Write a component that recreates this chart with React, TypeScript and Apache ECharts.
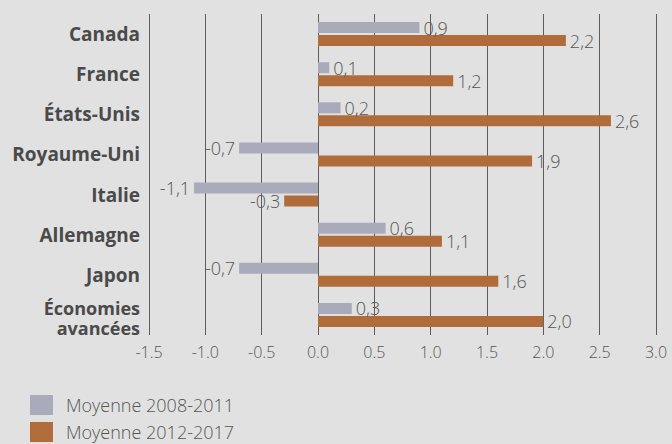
import React, { useEffect, useRef } from "react";
import * as echarts from "echarts";

const categories = [
  "Canada",
  "France",
  "États-Unis",
  "Royaume-Uni",
  "Italie",
  "Allemagne",
  "Japon",
  "Économies\navancées",
];
const avg2008_2011 = [0.9, 0.1, 0.2, -0.7, -1.1, 0.6, -0.7, 0.3];
const avg2012_2017 = [2.2, 1.2, 2.6, 1.9, -0.3, 1.1, 1.6, 2.0];
const seriesNames = ["Moyenne 2008-2011", "Moyenne 2012-2017"];
const xMin = -1.5;
const xMax = 3.0;
const xStep = 0.5;

const FONT = "'Open Sans', 'Noto Sans', sans-serif";

function toData(values: number[]) {
  return values.map((v) => ({
    value: v,
    label: { position: v < 0 ? "left" : "right" },
  }));
}

export default function App() {
  const ref = useRef<HTMLDivElement>(null);
  useEffect(() => {
    document.body.style.margin = "0";
    const chart = echarts.init(ref.current!, null, { renderer: "svg" });
    const label = {
      show: true,
      distance: 4,
      color: "#555555",
      fontFamily: FONT,
      fontWeight: 300,
      fontSize: 18,
      formatter: (p: any) => Number(p.value).toFixed(1).replace(".", ","),
    };
    const legendBase = {
      orient: "vertical",
      left: 30,
      padding: 0,
      itemWidth: 23,
      itemHeight: 20,
      icon: "rect",
      textStyle: {
        color: "#555555",
        fontFamily: FONT,
        fontWeight: 300,
        fontSize: 18,
        padding: [0, 0, 0, 8],
      },
    };
    const catStyle = {
      color: "#4a4a4a",
      fontFamily: FONT,
      fontWeight: "bold",
      fontSize: 19,
      lineHeight: 19,
    };
    chart.setOption({
      animation: false,
      backgroundColor: "#e1e1e1",
      grid: { left: 149, right: 16, top: 14, bottom: 109, containLabel: false },
      legend: [
        { ...legendBase, top: 395, data: [seriesNames[0]] },
        { ...legendBase, top: 422, data: [seriesNames[1]] },
      ],
      xAxis: {
        type: "value",
        min: xMin,
        max: xMax,
        interval: xStep,
        axisLine: { show: false },
        axisTick: { show: false },
        splitLine: { show: true, lineStyle: { color: "#5c5c5c", width: 1 } },
        axisLabel: {
          color: "#555555",
          fontFamily: FONT,
          fontWeight: 300,
          fontSize: 16,
          margin: 9,
          formatter: (v: number) => v.toFixed(1),
        },
      },
      yAxis: {
        type: "category",
        inverse: true,
        data: categories,
        axisLine: { show: false },
        axisTick: { show: false },
        splitLine: { show: false },
        axisLabel: {
          ...catStyle,
          margin: 9,
          align: "right",
          formatter: (v: string) =>
            v.includes("\n")
              ? "{s| }\n" + v.split("\n").map((l) => "{b|" + l + "}").join("\n")
              : "{a|" + v + "}",
          rich: {
            a: { ...catStyle },
            b: { ...catStyle, fontSize: 18, lineHeight: 20 },
            s: { fontSize: 6, lineHeight: 6 },
          },
        },
      },
      series: [
        {
          name: seriesNames[0],
          type: "bar",
          data: toData(avg2008_2011),
          barWidth: 11,
          barGap: "18%",
          itemStyle: { color: "#a9abba" },
          label,
        },
        {
          name: seriesNames[1],
          type: "bar",
          data: toData(avg2012_2017),
          barWidth: 11,
          barGap: "18%",
          itemStyle: { color: "#b06c3a" },
          label,
        },
      ],
    });
    return () => chart.dispose();
  }, []);
  return <div ref={ref} style={{ width: 672, height: 444 }} />;
}
